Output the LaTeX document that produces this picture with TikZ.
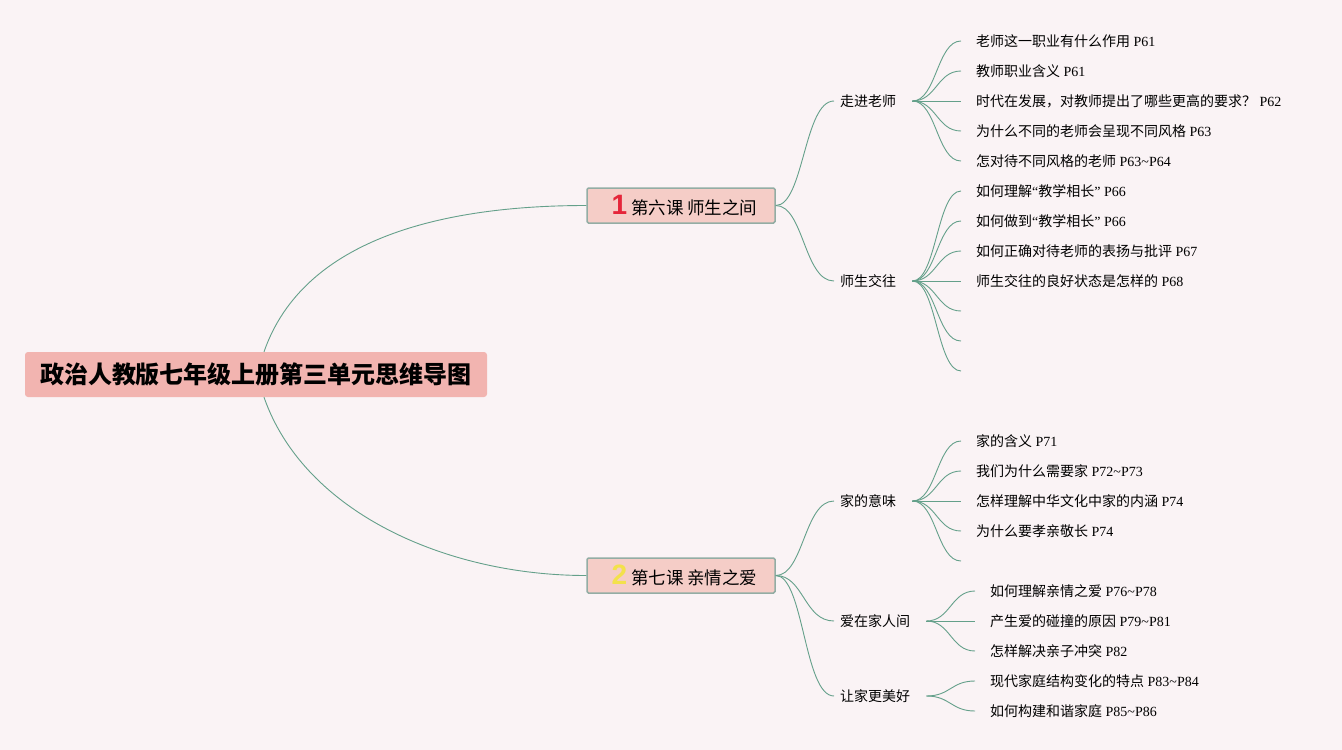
\documentclass[tikz,border=0pt]{standalone}
\usepackage{fontspec}
\setmainfont{Liberation Serif}
\newfontfamily\cjk{Noto Sans CJK SC}
\newfontfamily\numfont{Liberation Sans}
\newcommand\zh[1]{{\cjk #1}}
\definecolor{bgc}{HTML}{FAF3F5}
\definecolor{rootc}{HTML}{F2B4B0}
\definecolor{lessc}{HTML}{F5CDC7}
\definecolor{lessb}{HTML}{93ADA4}
\definecolor{linkc}{HTML}{64A08A}
\definecolor{numred}{HTML}{E5263A}
\definecolor{numyel}{HTML}{F3E14B}
\begin{document}
\begin{tikzpicture}[x=1pt,y=-1pt,
  rootbox/.style={fill=rootc, rounded corners=3pt, minimum width=462pt, minimum height=45pt, inner sep=0pt, font=\cjk\bfseries\fontsize{24}{28}\selectfont},
  lessonbox/.style={fill=lessc, draw=lessb, line width=1.5pt, rounded corners=1.5pt, minimum width=188pt, minimum height=35pt, inner sep=0pt, font=\fontsize{17.5}{20}\selectfont},
  topicnode/.style={anchor=west, inner xsep=6pt, inner ysep=2pt, font=\cjk\fontsize{14}{16}\selectfont},
  leafnode/.style={anchor=west, inner xsep=15pt, inner ysep=2pt, font=\fontsize{14}{16}\selectfont},
  link/.style={draw=linkc, line width=0.9pt}
]
\fill[bgc] (0,0) rectangle (1342,750);
\useasboundingbox (0,0) rectangle (1342,750);

% root
\node[rootbox] (root) at (256,374.5) {政治人教版七年级上册第三单元思维导图};

% lessons
\node[lessonbox] (les1) at (681,205.5) {\hspace*{7pt}\textcolor{numred}{\numfont\bfseries\fontsize{28}{28}\selectfont 1}\hspace{4pt}\zh{第六课 师生之间}};
\node[lessonbox] (les2) at (681,575.5) {\hspace*{7pt}\textcolor{numyel}{\numfont\bfseries\fontsize{28}{28}\selectfont 2}\hspace{4pt}\zh{第七课 亲情之爱}};

% topics
\node[topicnode] (t1) at (834,101) {走进老师};
\node[topicnode] (t2) at (834,281) {师生交往};
\node[topicnode] (t3) at (834,501) {家的意味};
\node[topicnode] (t4) at (834,621) {爱在家人间};
\node[topicnode] (t5) at (834,696) {让家更美好};

% leaves of t1
\node[leafnode] (a1) at (961,41) {\zh{老师这一职业有什么作用} P61};
\node[leafnode] (a2) at (961,71) {\zh{教师职业含义} P61};
\node[leafnode] (a3) at (961,101) {\zh{时代在发展，对教师提出了哪些更高的要求？} P62};
\node[leafnode] (a4) at (961,131) {\zh{为什么不同的老师会呈现不同风格} P63};
\node[leafnode] (a5) at (961,161) {\zh{怎对待不同风格的老师} P63\textasciitilde P64};
% leaves of t2
\node[leafnode] (b1) at (961,191) {\zh{如何理解}“\zh{教学相长}” P66};
\node[leafnode] (b2) at (961,221) {\zh{如何做到}“\zh{教学相长}” P66};
\node[leafnode] (b3) at (961,251) {\zh{如何正确对待老师的表扬与批评} P67};
\node[leafnode] (b4) at (961,281) {\zh{师生交往的良好状态是怎样的} P68};
\coordinate (b5) at (961,311);
\coordinate (b6) at (961,341);
\coordinate (b7) at (961,371);
% leaves of t3
\node[leafnode] (c1) at (961,441) {\zh{家的含义} P71};
\node[leafnode] (c2) at (961,471) {\zh{我们为什么需要家} P72\textasciitilde P73};
\node[leafnode] (c3) at (961,501) {\zh{怎样理解中华文化中家的内涵} P74};
\node[leafnode] (c4) at (961,531) {\zh{为什么要孝亲敬长} P74};
\coordinate (c5) at (961,561);
% leaves of t4
\node[leafnode] (d1) at (975,591) {\zh{如何理解亲情之爱} P76\textasciitilde P78};
\node[leafnode] (d2) at (975,621) {\zh{产生爱的碰撞的原因} P79\textasciitilde P81};
\node[leafnode] (d3) at (975,651) {\zh{怎样解决亲子冲突} P82};
% leaves of t5
\node[leafnode] (e1) at (975,681) {\zh{现代家庭结构变化的特点} P83\textasciitilde P84};
\node[leafnode] (e2) at (975,711) {\zh{如何构建和谐家庭} P85\textasciitilde P86};

% root connectors
\draw[link] ([xshift=8pt]root.north) .. controls +(40,-115) and +(-140,0) .. (les1.west);
\draw[link] ([xshift=8pt]root.south) .. controls +(40,115) and +(-140,0) .. (les2.west);

% lesson -> topic
\foreach \t in {t1,t2} \draw[link] (les1.east) .. controls +(28,0) and +(-30,0) .. (\t.west);
\foreach \t in {t3,t4,t5} \draw[link] (les2.east) .. controls +(28,0) and +(-30,0) .. (\t.west);

% topic -> leaves
\foreach \l in {a1,a2,a3,a4,a5} \draw[link] ([xshift=10pt]t1.east) .. controls +(24,0) and +(-24,0) .. (\l.west);
\foreach \l in {b1,b2,b3,b4} \draw[link] ([xshift=10pt]t2.east) .. controls +(24,0) and +(-24,0) .. (\l.west);
\foreach \l in {b5,b6,b7} \draw[link] ([xshift=10pt]t2.east) .. controls +(24,0) and +(-24,0) .. (\l);
\foreach \l in {c1,c2,c3,c4} \draw[link] ([xshift=10pt]t3.east) .. controls +(24,0) and +(-24,0) .. (\l.west);
\draw[link] ([xshift=10pt]t3.east) .. controls +(24,0) and +(-24,0) .. (c5);
\foreach \l in {d1,d2,d3} \draw[link] ([xshift=10pt]t4.east) .. controls +(24,0) and +(-24,0) .. (\l.west);
\foreach \l in {e1,e2} \draw[link] ([xshift=10pt]t5.east) .. controls +(24,0) and +(-24,0) .. (\l.west);
\end{tikzpicture}
\end{document}
